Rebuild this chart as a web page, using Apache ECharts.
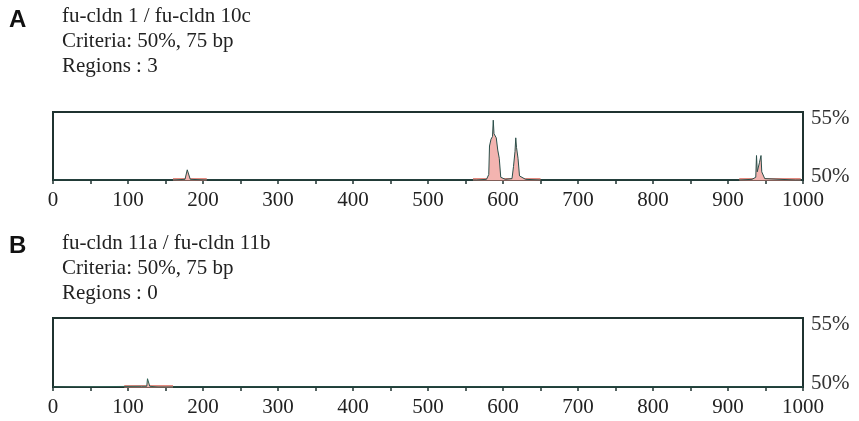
<!DOCTYPE html>
<html>
<head>
<meta charset="utf-8">
<script src="https://cdn.jsdelivr.net/npm/echarts@6/dist/echarts.min.js"></script>
<style>
  html, body { margin: 0; padding: 0; background: #fff; }
  #chart { width: 859px; height: 421px; }
</style>
</head>
<body>
<div id="chart"></div>
<script>
// x positions (bp) and conservation (%)
const curveA = [
  [0, 50], [160, 50], [176, 50.05], [179, 50.75], [181, 50.75], [183, 50.05], [205, 50],
  [565, 50], [578, 50.05], [581, 50.4], [582, 52.5], [584, 53.0], [586, 53.2], [587, 54.4],
  [588, 53.4], [591, 53.1], [593, 52.2], [595, 51.6], [597, 50.2], [603, 50.05],
  [612, 50.1], [614, 51.0], [616, 52.1], [617, 53.1], [618, 52.4], [620, 51.6], [622, 50.3],
  [630, 50.05], [650, 50],
  [915, 50], [932, 50.05], [937, 50.2], [938, 51.8], [939, 50.6], [942, 51.3], [944, 51.8],
  [945, 50.6], [949, 50.1], [990, 50], [1000, 50]
];
const pinkA = [[160, 50.05], [205, 50.05], null, [560, 50.05], [650, 50.05], null, [915, 50.05], [997, 50.05]];

const curveB = [
  [0, 50], [118, 50.05], [125, 50.05], [126, 50.6], [128, 50.6], [129, 50.05], [140, 50], [1000, 50]
];
const pinkB = [[95, 50.05], [160, 50.05]];

const xMin = 0, xMax = 1000, xStep = 50;
const yMin = 50, yMax = 55;

const titlesA = ['fu-cldn 1 / fu-cldn 10c', 'Criteria: 50%, 75 bp', 'Regions : 3'];
const titlesB = ['fu-cldn 11a / fu-cldn 11b', 'Criteria: 50%, 75 bp', 'Regions : 0'];

const dark = '#1f3330';
const serif = '"Liberation Serif", "DejaVu Serif", serif';

const chart = echarts.init(document.getElementById('chart'));

const xAxisBase = (gridIndex) => ({
  type: 'value', gridIndex, min: xMin, max: xMax, interval: xStep,
  axisLine: { show: false },
  axisTick: { show: true, length: 4, lineStyle: { color: dark, width: 1.5 } },
  splitLine: { show: false },
  axisLabel: {
    color: '#222', fontFamily: serif, fontSize: 21, margin: 10,
    formatter: (v) => (v % 100 === 0 ? String(v) : '')
  }
});

const yAxisBase = (gridIndex) => ({
  type: 'value', gridIndex, position: 'right', min: yMin, max: yMax, interval: 5,
  axisLine: { show: false }, axisTick: { show: false }, splitLine: { show: false },
  axisLabel: {
    color: '#333', fontFamily: serif, fontSize: 21, margin: 8,
    verticalAlign: 'middle',
    formatter: (v) => (v === yMax ? '{hi|' + v + '%}' : '{lo|' + v + '%}'),
    rich: {
      hi: { fontFamily: serif, fontSize: 21, color: '#333', padding: [12, 0, 0, 0] },
      lo: { fontFamily: serif, fontSize: 21, color: '#333', padding: [0, 0, 8, 0] }
    }
  }
});

const textLines = (lines, top) => lines.map((t, i) => ({
  type: 'text', left: 62, top: top + i * 25,
  style: { text: t, font: '21px ' + serif, fill: '#222' }
}));

chart.setOption({
  animation: false,
  grid: [
    { left: 53, right: 56, top: 112, height: 68, show: true, borderColor: dark, borderWidth: 2, backgroundColor: 'transparent' },
    { left: 53, right: 56, top: 318, height: 69, show: true, borderColor: dark, borderWidth: 2, backgroundColor: 'transparent' }
  ],
  xAxis: [xAxisBase(0), xAxisBase(1)],
  yAxis: [yAxisBase(0), yAxisBase(1)],
  graphic: [
    { type: 'text', left: 9, top: 8, style: { text: 'A', font: 'bold 24px "Liberation Sans", Arial, sans-serif', fill: '#111' } },
    { type: 'text', left: 9, top: 234, style: { text: 'B', font: 'bold 24px "Liberation Sans", Arial, sans-serif', fill: '#111' } },
    ...textLines(titlesA, 6),
    ...textLines(titlesB, 233)
  ],
  series: [
    {
      type: 'line', xAxisIndex: 0, yAxisIndex: 0, data: pinkA, showSymbol: false,
      lineStyle: { color: '#e58a80', width: 2.5 }, connectNulls: false, z: 2
    },
    {
      type: 'line', xAxisIndex: 0, yAxisIndex: 0, data: curveA, showSymbol: false,
      lineStyle: { color: '#2b4f4a', width: 1 },
      areaStyle: { color: '#f3b4b0', origin: 'start', opacity: 1 }, z: 3
    },
    {
      type: 'line', xAxisIndex: 1, yAxisIndex: 1, data: pinkB, showSymbol: false,
      lineStyle: { color: '#e58a80', width: 2.5 }, z: 2
    },
    {
      type: 'line', xAxisIndex: 1, yAxisIndex: 1, data: curveB, showSymbol: false,
      lineStyle: { color: '#2b5f52', width: 1 },
      areaStyle: { color: '#f3b4b0', origin: 'start', opacity: 1 }, z: 3
    }
  ]
});
</script>
</body>
</html>
